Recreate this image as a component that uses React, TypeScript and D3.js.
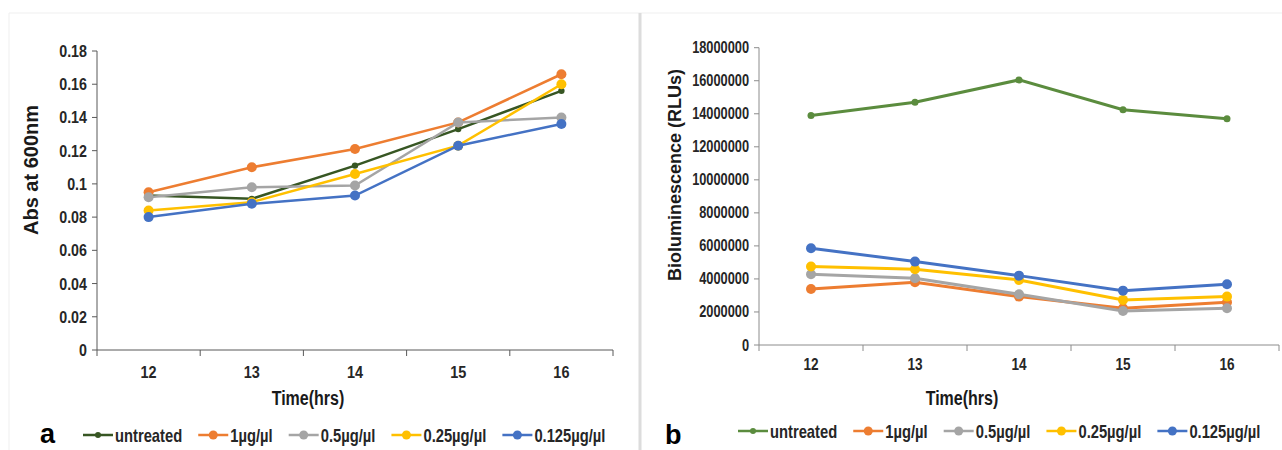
import { useMemo } from "react";
import * as d3 from "d3";

// data
const hours = [12, 13, 14, 15, 16];
const seriesNames = ["untreated", "1µg/µl", "0.5µg/µl", "0.25µg/µl", "0.125µg/µl"];

// panel a - Abs at 600nm
const absUntreated = [0.093, 0.091, 0.111, 0.133, 0.156];
const abs1 = [0.095, 0.11, 0.121, 0.137, 0.166];
const abs05 = [0.092, 0.098, 0.099, 0.137, 0.14];
const abs025 = [0.084, 0.089, 0.106, 0.123, 0.16];
const abs0125 = [0.08, 0.088, 0.093, 0.123, 0.136];

// panel b - Bioluminescence (RLUs)
const rluUntreated = [13900000, 14700000, 16050000, 14240000, 13700000];
const rlu1 = [3390000, 3800000, 2930000, 2220000, 2590000];
const rlu05 = [4280000, 4040000, 3070000, 2060000, 2220000];
const rlu025 = [4750000, 4590000, 3940000, 2730000, 2930000];
const rlu0125 = [5860000, 5050000, 4200000, 3290000, 3680000];

const FONT = '"Liberation Sans", Arial, sans-serif';

const measure = (() => {
  let ctx: CanvasRenderingContext2D | null = null;
  return (text: string, font: string) => {
    if (!ctx) ctx = document.createElement("canvas").getContext("2d");
    if (!ctx) return text.length * 8;
    ctx.font = font;
    return ctx.measureText(text).width;
  };
})();

type NTextProps = {
  x: number;
  y: number;
  size: number;
  sq?: number;
  anchor?: "start" | "middle" | "end";
  fill?: string;
  children: React.ReactNode;
};

// no narrow face installed, so condense the bold face horizontally
function NText({ x, y, size, sq = 0.8, anchor = "start", fill = "#262626", children }: NTextProps) {
  return (
    <text
      transform={`translate(${x},${y}) scale(${sq},1)`}
      textAnchor={anchor}
      dominantBaseline="central"
      fontFamily={FONT}
      fontWeight="bold"
      fontSize={size}
      fill={fill}
    >
      {children}
    </text>
  );
}

type PanelProps = {
  series: number[][];
  colors: string[];
  markerR: number[];
  strokeW: number;
  x0: number;
  x1: number;
  yTop: number;
  yBottom: number;
  yMax: number;
  fmt: (v: number) => string;
  tickSize: number;
  tickSq: number;
  xTickY: number;
  axisColor: string;
  yTitle: string;
  yTitleX: number;
  yTitleY: number;
  yTitleSize: number;
  xTitleX: number;
  xTitleY: number;
  letter: string;
  letterX: number;
  letterY: number;
  legendX: number;
  legendY: number;
};

function Panel(p: PanelProps) {
  const x = d3.scaleBand<number>().domain(hours).range([p.x0, p.x1]);
  const y = d3.scaleLinear().domain([0, p.yMax]).range([p.yBottom, p.yTop]);
  const cx = (h: number) => (x(h) ?? 0) + x.bandwidth() / 2;
  const line = d3
    .line<number>()
    .x((_, i) => cx(hours[i]))
    .y((d) => y(d));
  const yTicks = y.ticks(9);
  const bounds = d3.range(hours.length + 1).map((i) => p.x0 + i * x.step());

  const legendSize = 18;
  const legendSq = 0.82;
  const legend = useMemo(() => {
    let cur = p.legendX;
    return seriesNames.map((name, i) => {
      const w = measure(name, `bold ${legendSize}px ${FONT}`) * legendSq;
      const item = { name, i, x: cur };
      cur += 32 + w + 16;
      return item;
    });
  }, [p.legendX]);

  return (
    <g>
      {/* axes */}
      <line x1={p.x0} x2={p.x0} y1={p.yTop} y2={p.yBottom} stroke={p.axisColor} />
      <line x1={p.x0} x2={p.x1} y1={p.yBottom} y2={p.yBottom} stroke={p.axisColor} />
      {yTicks.map((t) => (
        <g key={t}>
          <line x1={p.x0 - 5} x2={p.x0} y1={y(t)} y2={y(t)} stroke={p.axisColor} />
          <NText x={p.x0 - 10} y={y(t)} size={p.tickSize} sq={p.tickSq} anchor="end">
            {p.fmt(t)}
          </NText>
        </g>
      ))}
      {bounds.map((b) => (
        <line key={b} x1={b} x2={b} y1={p.yBottom} y2={p.yBottom + 6} stroke={p.axisColor} />
      ))}
      {hours.map((h) => (
        <NText key={h} x={cx(h)} y={p.xTickY} size={p.tickSize} sq={0.85} anchor="middle">
          {h}
        </NText>
      ))}
      <NText x={p.xTitleX} y={p.xTitleY} size={20} anchor="middle" fill="#1a1a1a">
        Time(hrs)
      </NText>
      <text
        transform={`translate(${p.yTitleX},${p.yTitleY}) rotate(-90)`}
        textAnchor="middle"
        dominantBaseline="central"
        fontFamily={FONT}
        fontWeight="bold"
        fontSize={p.yTitleSize}
        fill="#1a1a1a"
      >
        {p.yTitle}
      </text>

      {/* series */}
      {p.series.map((vals, si) => (
        <g key={si}>
          <path d={line(vals) ?? ""} fill="none" stroke={p.colors[si]} strokeWidth={p.strokeW} />
          {vals.map((v, i) => (
            <circle key={i} cx={cx(hours[i])} cy={y(v)} r={p.markerR[si]} fill={p.colors[si]} />
          ))}
        </g>
      ))}

      {/* legend */}
      <text x={p.letterX} y={p.letterY} fontFamily={FONT} fontWeight="bold" fontSize={27} fill="#000">
        {p.letter}
      </text>
      {legend.map((it) => (
        <g key={it.name}>
          <line
            x1={it.x}
            x2={it.x + 30}
            y1={p.legendY}
            y2={p.legendY}
            stroke={p.colors[it.i]}
            strokeWidth={2.5}
          />
          <circle cx={it.x + 15} cy={p.legendY} r={it.i === 0 ? 3 : 4.5} fill={p.colors[it.i]} />
          <NText x={it.x + 32} y={p.legendY} size={legendSize} sq={legendSq}>
            {it.name}
          </NText>
        </g>
      ))}
    </g>
  );
}

export default function App() {
  const fmtAbs = d3.format("~g");
  const fmtRlu = d3.format("d");
  return (
    <svg
      width={1282}
      height={450}
      style={{ position: "absolute", left: 0, top: 0, background: "#fff" }}
    >
      <rect width={1282} height={450} fill="#fff" />
      <line x1={9} x2={1282} y1={13} y2={13} stroke="#efefef" />
      <line x1={9} x2={9} y1={13} y2={450} stroke="#efefef" />
      <line x1={640} x2={640} y1={13} y2={450} stroke="#dcdcdc" strokeWidth={3} />

      <Panel
        series={[absUntreated, abs1, abs05, abs025, abs0125]}
        colors={["#375623", "#ED7D31", "#A5A5A5", "#FFC000", "#4472C4"]}
        markerR={[3.2, 5, 5, 5, 5]}
        strokeW={2.5}
        x0={97}
        x1={613}
        yTop={51}
        yBottom={350}
        yMax={0.18}
        fmt={fmtAbs}
        tickSize={17}
        tickSq={0.84}
        xTickY={372}
        axisColor="#595959"
        yTitle="Abs at 600nm"
        yTitleX={31}
        yTitleY={170}
        yTitleSize={20}
        xTitleX={308}
        xTitleY={398}
        letter="a"
        letterX={40}
        letterY={443}
        legendX={83}
        legendY={435}
      />
      <Panel
        series={[rluUntreated, rlu1, rlu05, rlu025, rlu0125]}
        colors={["#5B8C3E", "#ED7D31", "#A5A5A5", "#FFC000", "#4472C4"]}
        markerR={[3.5, 5, 5, 5, 5]}
        strokeW={3}
        x0={759}
        x1={1279}
        yTop={47.7}
        yBottom={345}
        yMax={18000000}
        fmt={fmtRlu}
        tickSize={16}
        tickSq={0.8}
        xTickY={365}
        axisColor="#8c8c8c"
        yTitle="Bioluminescence (RLUs)"
        yTitleX={675}
        yTitleY={175}
        yTitleSize={18}
        xTitleX={962}
        xTitleY={398}
        letter="b"
        letterX={665}
        letterY={444}
        legendX={738}
        legendY={431}
      />
    </svg>
  );
}
